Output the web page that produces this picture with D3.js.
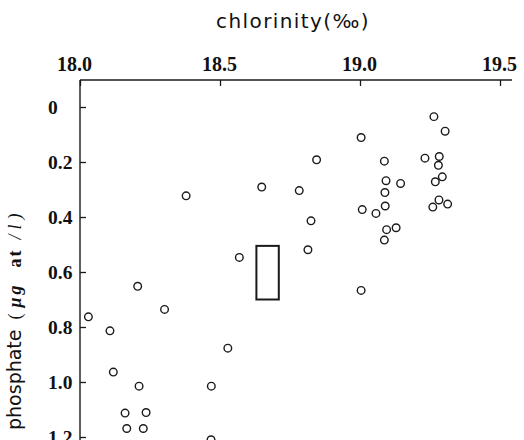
<!DOCTYPE html>
<html>
<head>
<meta charset="utf-8">
<script src="https://cdn.jsdelivr.net/npm/d3@7"></script>
<style>
  html, body { margin: 0; padding: 0; background: #fff; }
  svg { display: block; }
</style>
</head>
<body>
<svg id="chart" width="524" height="440"></svg>
<script>
// Chlorinity (‰) vs phosphate (µg at/l) samples
const chlorinity = [
  19.264, 19.304, 19.004, 18.845, 19.087, 19.232, 19.283, 19.280,
  18.649, 18.783, 19.093, 19.145, 19.294, 19.269, 19.089, 18.825,
  19.008, 19.057, 19.090, 19.282, 19.260, 19.313, 19.095, 19.129,
  19.087, 18.814, 19.004, 18.379, 18.569, 18.206, 18.302, 18.030,
  18.107, 18.528, 18.119, 18.211, 18.469, 18.161, 18.236, 18.167,
  18.226, 18.468
];
const phosphate = [
  0.035, 0.088, 0.111, 0.192, 0.197, 0.186, 0.180, 0.212,
  0.291, 0.304, 0.268, 0.278, 0.254, 0.272, 0.311, 0.414,
  0.373, 0.387, 0.360, 0.338, 0.364, 0.353, 0.446, 0.439,
  0.484, 0.519, 0.667, 0.323, 0.547, 0.652, 0.736, 0.763,
  0.814, 0.877, 0.964, 1.015, 1.015, 1.113, 1.111, 1.169,
  1.169, 1.210
];
// Range box: chlorinity span and phosphate span
const boxChlorinity = [18.63, 18.71];
const boxPhosphate = [0.505, 0.70];

const xTicks = [18.0, 18.5, 19.0, 19.5];
const xTickLabels = ["18.0", "18.5", "19.0", "19.5"];
const yTicks = [0, 0.2, 0.4, 0.6, 0.8, 1.0, 1.2];
const yTickLabels = ["0", "0.2", "0.4", "0.6", "0.8", "1.0", "1.2"];

const svg = d3.select("#chart");
const frameTop = 80, frameLeft = 80;

const x = d3.scaleLinear().domain([18.0, 19.5]).range([80, 500]);
const y = d3.scaleLinear().domain([0, 1.2]).range([107, 437]);

const ink = "#1a1a1a";
const serif = "'Liberation Serif', 'Times New Roman', serif";
const sans = "'DejaVu Sans', sans-serif";

// Frame lines (top and left)
svg.append("line")
  .attr("x1", frameLeft).attr("x2", x(19.5) + 12)
  .attr("y1", frameTop).attr("y2", frameTop)
  .attr("stroke", ink).attr("stroke-width", 1.3);
svg.append("line")
  .attr("x1", frameLeft).attr("x2", frameLeft)
  .attr("y1", frameTop).attr("y2", 445)
  .attr("stroke", ink).attr("stroke-width", 1.4);

// Top axis: inward ticks, labels above
const xAxis = d3.axisTop(x)
  .tickValues(xTicks)
  .tickFormat((d, i) => xTickLabels[i])
  .tickSizeInner(-6)
  .tickSizeOuter(0)
  .tickPadding(9);
const gx = svg.append("g")
  .attr("transform", `translate(0,${frameTop})`)
  .call(xAxis);
gx.select(".domain").remove();
gx.selectAll(".tick line").attr("stroke", ink).attr("stroke-width", 1.3);
gx.selectAll(".tick text")
  .attr("fill", "#111")
  .style("font-family", serif)
  .style("font-size", "20px")
  .style("font-weight", "600")
  .attr("dx", (d, i) => i === 0 ? -6 : -1);

// Left axis: inward ticks, labels left-aligned in a column
const yAxis = d3.axisLeft(y)
  .tickValues(yTicks)
  .tickFormat((d, i) => yTickLabels[i])
  .tickSizeInner(-6)
  .tickSizeOuter(0)
  .tickPadding(0);
const gy = svg.append("g")
  .attr("transform", `translate(${frameLeft},0)`)
  .call(yAxis);
gy.select(".domain").remove();
gy.selectAll(".tick line").attr("stroke", ink).attr("stroke-width", 1.3);
gy.selectAll(".tick text")
  .attr("fill", "#111")
  .attr("text-anchor", "start")
  .attr("x", -32)
  .style("font-family", serif)
  .style("font-size", "19.5px")
  .style("font-weight", "bold");

// Axis titles
svg.append("text")
  .attr("x", 293).attr("y", 28)
  .attr("text-anchor", "middle")
  .style("font-family", sans)
  .style("font-size", "20px")
  .attr("letter-spacing", 1.4)
  .attr("fill", "#111")
  .text("chlorinity(‰)");

const yTitle = svg.append("text")
  .attr("transform", "translate(21,430) rotate(-90)")
  .attr("fill", "#111");
yTitle.append("tspan")
  .style("font-family", sans)
  .style("font-size", "19px")
  .text("phosphate");
yTitle.append("tspan")
  .attr("dx", 10)
  .style("font-family", serif)
  .style("font-size", "18px")
  .attr("letter-spacing", 6)
  .text("(");
yTitle.append("tspan")
  .style("font-family", serif)
  .style("font-style", "italic")
  .style("font-weight", "bold")
  .style("font-size", "18px")
  .attr("letter-spacing", 3)
  .text("μg");
yTitle.append("tspan")
  .attr("dx", 15)
  .style("font-family", serif)
  .style("font-weight", "bold")
  .style("font-size", "18px")
  .attr("letter-spacing", 2)
  .text("at");
yTitle.append("tspan")
  .attr("dx", 9)
  .style("font-family", serif)
  .style("font-style", "italic")
  .style("font-size", "18px")
  .attr("letter-spacing", 5)
  .text("/l)");

// Range box
svg.append("rect")
  .attr("x", x(boxChlorinity[0]))
  .attr("y", y(boxPhosphate[0]))
  .attr("width", x(boxChlorinity[1]) - x(boxChlorinity[0]))
  .attr("height", y(boxPhosphate[1]) - y(boxPhosphate[0]))
  .attr("fill", "none")
  .attr("stroke", ink)
  .attr("stroke-width", 2);

// Sample points
svg.append("g")
  .selectAll("circle")
  .data(d3.zip(chlorinity, phosphate))
  .join("circle")
  .attr("cx", d => x(d[0]))
  .attr("cy", d => y(d[1]))
  .attr("r", 3.8)
  .attr("fill", "#fff")
  .attr("stroke", ink)
  .attr("stroke-width", 1.4);
</script>
</body>
</html>
